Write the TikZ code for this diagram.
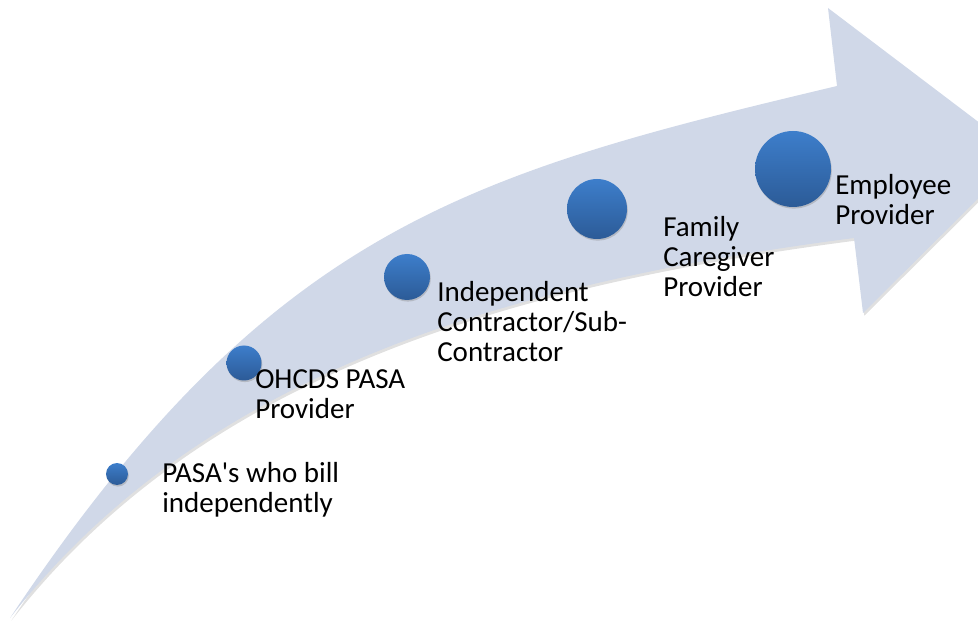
\documentclass[tikz,border=0pt]{standalone}
\usepackage{fontspec}
\setmainfont{Carlito}
\usetikzlibrary{shadows}
\definecolor{bandfill}{HTML}{D0D8E8}
\definecolor{dottop}{HTML}{3D7ECB}
\definecolor{dotbot}{HTML}{2C5B97}
\begin{document}
\begin{tikzpicture}[x=0.75pt, y=-0.75pt,
    dot/.style={circle, inner sep=0pt, top color=dottop, bottom color=dotbot,
      drop shadow={shadow xshift=0.6pt, shadow yshift=-1.2pt, opacity=0.35}},
    lbl/.style={anchor=base west, align=left, inner sep=0pt,
      font=\fontsize{21.75pt}{22.5pt}\selectfont}]

    \useasboundingbox (0,0) rectangle (978,623);
    \clip (0,0) rectangle (978,623);

    \fill [black, opacity=0.12, xshift=1pt, yshift=-2pt]
      (10,618) .. controls (270,228) and (467,174) .. (837,86)
      -- (828,8) -- (1022,155) -- (863,313) -- (854,238)
      .. controls (500,284) and (200,375) .. (10,618) -- cycle;
    \fill [bandfill]
      (10,618) .. controls (270,228) and (467,174) .. (837,86)
      -- (828,8) -- (1022,155) -- (863,313) -- (854,238)
      .. controls (500,284) and (200,375) .. (10,618) -- cycle;

    \node [dot, minimum size=16.5pt] (d1) at (117,474) {};
    \node [dot, minimum size=26.25pt] (d2) at (244,363) {};
    \node [dot, minimum size=34.5pt] (d3) at (407,277) {};
    \node [dot, minimum size=45pt] (d4) at (597,209) {};
    \node [dot, minimum size=57pt] (d5) at (793,169) {};

    % anchor sits on the last line
    \node [lbl] (t1) at (162,512) {PASA\textquotesingle s who bill\\independently};
    \node [lbl] (t2) at (255,418) {OHCDS PASA\\Provider};
    \node [lbl] (t3) at (437,362) {Independent\\Contractor/Sub-\\Contractor};
    \node [lbl] (t4) at (663,297) {Family\\Caregiver\\Provider};
    \node [lbl] (t5) at (835,225) {Employee\\Provider};

\end{tikzpicture}
\end{document}
